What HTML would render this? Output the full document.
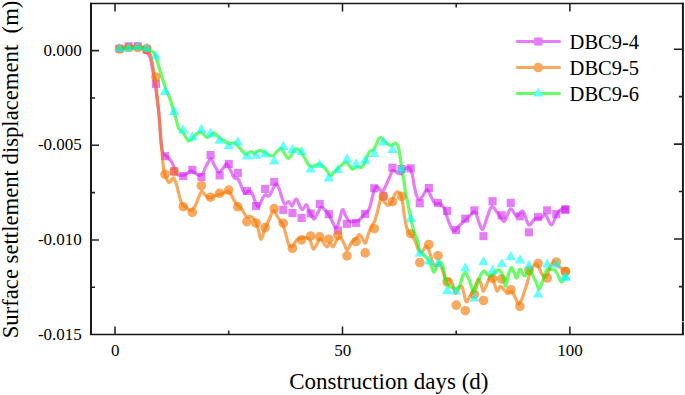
<!DOCTYPE html><html><head><meta charset="utf-8"><style>html,body{margin:0;padding:0;background:#fff;width:685px;height:395px;overflow:hidden}svg{display:block}text{font-family:"Liberation Serif",serif;fill:#000}</style></head><body>
<svg width="685" height="395" viewBox="0 0 685 395">
<path d="M119.5 48.5C120.2 48.3 122.5 47.8 124.0 47.5C125.5 47.2 127.1 46.6 128.6 46.5C130.1 46.4 131.7 46.8 133.2 46.8C134.7 46.8 136.2 46.4 137.7 46.5C139.2 46.6 141.2 46.7 142.3 47.5C143.4 48.3 143.2 50.5 144.0 51.5C144.8 52.5 146.1 52.5 147.0 53.2C147.9 53.9 148.8 54.4 149.4 55.5C150.0 56.6 150.4 58.2 150.8 60.0C151.2 61.8 151.6 64.0 152.0 66.0C152.4 68.0 152.6 69.7 153.0 72.0C153.4 74.3 154.1 77.3 154.5 80.0C154.9 82.7 155.3 85.3 155.7 88.0C156.1 90.7 156.3 93.3 156.7 96.0C157.1 98.7 157.5 101.1 157.9 104.3C158.3 107.5 158.7 111.5 159.0 115.0C159.3 118.5 159.5 120.8 159.8 125.0C160.1 129.2 160.5 135.9 160.9 140.2C161.3 144.4 161.6 148.1 162.1 150.5C162.6 152.9 162.9 153.8 163.8 154.8C164.7 155.9 166.2 155.7 167.4 156.8C168.6 157.9 170.2 159.9 171.2 161.4C172.2 162.9 172.8 164.3 173.5 165.9C174.2 167.5 174.6 169.5 175.2 171.0C175.8 172.5 176.4 174.0 177.3 174.7C178.2 175.4 179.4 175.1 180.4 175.2C181.4 175.3 182.2 175.6 183.4 175.3C184.6 175.0 186.2 174.0 187.4 173.3C188.6 172.6 189.4 171.2 190.5 171.0C191.6 170.8 192.4 171.5 193.8 172.2C195.2 172.9 197.4 175.2 198.9 175.4C200.4 175.6 201.4 175.2 202.7 173.5C204.0 171.8 205.1 167.7 206.5 165.3C207.9 162.9 209.5 158.8 210.9 158.9C212.3 159.0 213.3 163.7 214.7 165.9C216.1 168.1 217.6 171.9 219.1 172.2C220.6 172.5 222.2 169.2 223.5 167.8C224.8 166.4 225.5 163.6 226.7 164.0C227.9 164.4 229.2 168.0 230.5 170.3C231.8 172.6 233.1 176.5 234.3 177.9C235.5 179.3 236.4 177.4 237.5 178.5C238.6 179.6 239.8 182.4 240.6 184.2C241.4 186.0 241.8 188.0 242.5 189.5C243.2 191.0 244.0 193.2 245.1 193.4C246.2 193.6 247.8 191.0 248.9 190.9C250.1 190.8 250.9 191.0 252.0 192.8C253.1 194.6 254.1 199.3 255.2 201.6C256.3 203.9 257.2 207.1 258.4 206.7C259.6 206.3 261.0 201.1 262.2 199.1C263.4 197.1 264.1 195.2 265.3 194.7C266.5 194.2 267.8 196.9 269.1 196.0C270.4 195.1 271.7 191.0 272.9 189.0C274.1 187.0 275.1 183.9 276.1 183.9C277.2 183.9 278.1 186.5 279.2 189.0C280.2 191.5 281.4 196.6 282.4 199.1C283.3 201.6 283.8 203.8 284.9 204.2C285.9 204.6 287.5 201.3 288.7 201.6C289.9 201.9 290.8 206.3 291.9 206.1C292.9 205.9 294.2 201.4 295.0 200.3C295.8 199.2 296.0 198.6 296.9 199.6C297.8 200.6 299.2 204.9 300.1 206.6C301.1 208.3 301.6 210.0 302.6 209.7C303.7 209.4 305.1 204.2 306.4 204.7C307.7 205.2 308.9 210.5 310.2 212.9C311.5 215.3 312.7 219.2 314.0 219.2C315.3 219.2 316.6 214.9 317.8 212.9C319.0 210.9 319.7 207.6 321.0 207.2C322.3 206.8 324.0 209.0 325.4 210.4C326.8 211.8 327.9 213.3 329.2 215.4C330.5 217.5 331.9 220.9 333.0 223.0C334.1 225.1 335.1 228.5 336.1 228.1C337.2 227.7 338.2 223.6 339.3 220.5C340.4 217.4 341.5 210.6 342.5 209.7C343.5 208.8 344.3 213.2 345.3 215.0C346.3 216.8 347.2 219.4 348.6 220.5C350.0 221.6 352.0 221.8 353.8 221.7C355.6 221.6 357.4 221.3 359.2 220.0C361.0 218.7 362.9 215.7 364.5 214.0C366.1 212.3 367.7 211.8 368.9 209.6C370.1 207.4 370.6 203.9 371.5 200.7C372.4 197.4 373.3 192.5 374.2 190.1C375.1 187.7 375.9 186.5 376.9 186.5C377.9 186.5 379.4 189.3 380.4 190.1C381.4 190.8 382.1 192.0 383.1 191.0C384.1 190.0 385.4 186.4 386.6 183.9C387.8 181.4 389.1 178.1 390.1 175.9C391.1 173.7 391.6 171.1 392.8 170.6C394.1 170.1 396.2 172.4 397.6 172.9C399.0 173.4 400.1 174.3 401.4 173.7C402.7 173.1 403.9 170.1 405.2 169.1C406.5 168.1 407.8 166.8 409.0 167.6C410.2 168.4 411.4 171.2 412.2 174.0C413.0 176.8 413.3 180.8 414.0 184.3C414.7 187.8 415.4 192.4 416.3 194.9C417.2 197.4 418.4 199.5 419.6 199.5C420.8 199.5 422.1 196.6 423.4 194.9C424.7 193.2 426.0 189.6 427.2 189.6C428.4 189.6 429.1 192.8 430.3 194.9C431.5 197.1 433.0 201.0 434.1 202.5C435.2 204.0 436.1 203.8 437.0 204.0C437.9 204.2 438.4 202.8 439.6 203.5C440.8 204.2 442.7 205.4 444.1 208.1C445.5 210.8 446.6 216.1 447.9 219.5C449.2 222.9 450.6 226.7 451.7 228.6C452.8 230.5 453.4 231.4 454.7 230.9C456.0 230.4 457.5 227.3 459.3 225.5C461.1 223.7 463.5 222.0 465.4 220.2C467.3 218.4 469.1 216.3 470.7 214.9C472.3 213.5 473.8 210.6 475.2 211.9C476.6 213.2 477.7 219.6 479.0 222.5C480.3 225.4 481.4 230.3 482.8 229.3C484.2 228.3 485.9 220.2 487.4 216.4C488.9 212.6 490.2 207.2 491.9 206.6C493.5 206.0 495.9 211.0 497.3 212.6C498.7 214.2 498.8 215.0 500.0 216.4C501.2 217.8 502.8 222.3 504.6 221.0C506.4 219.7 508.6 209.6 510.6 208.8C512.6 208.0 514.7 216.0 516.7 216.4C518.7 216.8 520.8 209.7 522.8 211.1C524.8 212.5 526.8 223.5 528.8 224.8C530.8 226.1 532.9 219.8 534.9 218.7C536.9 217.6 539.2 218.6 541.0 218.0C542.8 217.4 543.7 213.8 545.5 214.9C547.3 216.0 549.6 225.2 551.6 224.8C553.6 224.4 555.7 215.4 557.7 212.6C559.7 209.8 562.3 208.7 563.8 208.1C565.3 207.5 566.3 208.7 566.8 208.8" fill="none" stroke="#D425F3" stroke-opacity="0.6" stroke-width="3.2" stroke-linejoin="round" stroke-linecap="round"/>
<g fill="#D425F3" fill-opacity="0.6"><rect x="115.5" y="44.6" width="8.1" height="8.1"/><rect x="124.6" y="42.2" width="8.1" height="8.1"/><rect x="133.7" y="42.2" width="8.1" height="8.1"/><rect x="142.8" y="45.7" width="8.1" height="8.1"/><rect x="151.9" y="79.8" width="8.1" height="8.1"/><rect x="161.0" y="152.1" width="8.1" height="8.1"/><rect x="170.1" y="167.2" width="8.1" height="8.1"/><rect x="179.2" y="172.0" width="8.1" height="8.1"/><rect x="188.3" y="165.8" width="8.1" height="8.1"/><rect x="197.4" y="173.0" width="8.1" height="8.1"/><rect x="206.5" y="151.0" width="8.1" height="8.1"/><rect x="215.6" y="171.3" width="8.1" height="8.1"/><rect x="224.7" y="159.9" width="8.1" height="8.1"/><rect x="233.8" y="168.9" width="8.1" height="8.1"/><rect x="242.9" y="186.9" width="8.1" height="8.1"/><rect x="252.0" y="202.0" width="8.1" height="8.1"/><rect x="261.1" y="184.9" width="8.1" height="8.1"/><rect x="270.2" y="177.9" width="8.1" height="8.1"/><rect x="279.3" y="205.8" width="8.1" height="8.1"/><rect x="288.4" y="208.9" width="8.1" height="8.1"/><rect x="297.5" y="213.9" width="8.1" height="8.1"/><rect x="306.6" y="209.4" width="8.1" height="8.1"/><rect x="315.7" y="199.9" width="8.1" height="8.1"/><rect x="324.8" y="210.1" width="8.1" height="8.1"/><rect x="333.9" y="226.4" width="8.1" height="8.1"/><rect x="342.9" y="219.8" width="8.1" height="8.1"/><rect x="352.0" y="218.8" width="8.1" height="8.1"/><rect x="361.1" y="209.9" width="8.1" height="8.1"/><rect x="370.2" y="184.2" width="8.1" height="8.1"/><rect x="379.3" y="192.2" width="8.1" height="8.1"/><rect x="388.4" y="163.6" width="8.1" height="8.1"/><rect x="397.5" y="165.0" width="8.1" height="8.1"/><rect x="406.6" y="164.3" width="8.1" height="8.1"/><rect x="415.7" y="199.2" width="8.1" height="8.1"/><rect x="424.8" y="184.0" width="8.1" height="8.1"/><rect x="433.9" y="198.9" width="8.1" height="8.1"/><rect x="443.0" y="207.0" width="8.1" height="8.1"/><rect x="452.1" y="226.0" width="8.1" height="8.1"/><rect x="461.2" y="214.6" width="8.1" height="8.1"/><rect x="470.3" y="206.3" width="8.1" height="8.1"/><rect x="479.4" y="232.1" width="8.1" height="8.1"/><rect x="488.5" y="197.2" width="8.1" height="8.1"/><rect x="497.6" y="211.2" width="8.1" height="8.1"/><rect x="506.7" y="198.8" width="8.1" height="8.1"/><rect x="515.8" y="212.3" width="8.1" height="8.1"/><rect x="524.9" y="228.3" width="8.1" height="8.1"/><rect x="534.0" y="213.1" width="8.1" height="8.1"/><rect x="543.1" y="206.3" width="8.1" height="8.1"/><rect x="552.2" y="210.1" width="8.1" height="8.1"/><rect x="561.3" y="205.5" width="8.1" height="8.1"/><rect x="561.3" y="205.5" width="8.1" height="8.1"/></g>
<path d="M119.5 49.0C120.2 48.9 122.5 48.8 124.0 48.5C125.5 48.2 127.1 47.6 128.6 47.5C130.1 47.4 131.7 47.8 133.2 47.8C134.7 47.8 136.2 47.4 137.7 47.5C139.2 47.6 141.2 47.9 142.3 48.5C143.4 49.1 143.3 50.3 144.1 51.0C144.9 51.7 146.0 52.0 147.0 52.5C148.0 53.0 149.5 53.1 150.2 54.0C150.9 54.9 151.0 56.6 151.3 58.0C151.6 59.4 151.8 60.6 152.2 62.5C152.5 64.4 152.9 66.4 153.4 69.3C153.9 72.2 154.6 76.5 155.2 80.0C155.8 83.5 156.2 86.5 156.7 90.6C157.1 94.6 157.5 100.2 157.9 104.3C158.3 108.4 158.7 111.5 159.0 115.0C159.3 118.5 159.5 120.8 159.8 125.0C160.1 129.2 160.5 135.6 160.9 140.2C161.3 144.8 161.8 148.5 162.1 152.3C162.4 156.1 162.5 159.4 162.9 162.9C163.3 166.4 163.8 170.8 164.4 173.5C165.0 176.2 166.0 177.3 166.7 178.8C167.4 180.3 168.0 182.0 168.7 182.4C169.4 182.8 170.0 181.8 170.8 181.0C171.6 180.2 172.6 177.3 173.5 177.8C174.4 178.3 175.4 181.2 176.3 183.9C177.2 186.6 178.1 190.9 178.9 194.1C179.8 197.3 180.4 200.8 181.4 202.9C182.4 205.0 183.6 205.4 185.2 206.7C186.8 208.0 189.2 210.7 190.9 210.5C192.6 210.3 194.0 207.5 195.3 205.4C196.6 203.3 197.4 200.1 198.5 197.8C199.6 195.5 200.5 192.0 201.6 191.5C202.7 191.0 203.7 193.6 204.8 194.7C205.9 195.8 206.9 197.3 208.0 197.8C209.1 198.3 209.8 198.2 211.1 197.8C212.4 197.4 214.0 195.9 215.6 195.3C217.2 194.7 218.9 194.6 220.6 194.1C222.3 193.6 224.2 192.5 225.7 192.2C227.2 191.9 228.3 191.1 229.6 192.2C230.9 193.3 232.1 196.8 233.4 199.0C234.7 201.2 235.8 203.4 237.2 205.1C238.6 206.8 240.2 207.0 241.7 208.9C243.2 210.8 244.8 215.2 246.3 216.5C247.8 217.8 249.3 215.8 250.8 216.5C252.3 217.2 254.1 218.7 255.4 221.0C256.7 223.3 257.5 227.0 258.4 230.1C259.3 233.2 260.0 239.3 261.0 239.3C262.0 239.3 263.1 233.4 264.5 230.1C265.9 226.8 267.6 222.8 269.1 219.5C270.6 216.2 272.2 210.9 273.6 210.4C275.0 209.9 276.1 214.5 277.4 216.5C278.7 218.5 280.2 221.0 281.2 222.5C282.2 224.0 282.6 223.3 283.4 225.5C284.2 227.7 285.2 232.1 286.1 235.4C287.1 238.7 288.0 243.5 289.1 245.3C290.2 247.1 291.6 246.9 292.9 246.0C294.2 245.1 295.3 241.2 296.7 239.9C298.1 238.6 299.6 238.8 301.3 238.4C303.0 238.0 305.1 237.3 306.6 237.7C308.1 238.1 309.3 238.8 310.4 240.7C311.5 242.6 312.3 248.6 313.4 249.1C314.5 249.6 316.0 245.5 317.2 243.7C318.4 241.9 319.1 238.4 320.3 238.4C321.5 238.4 323.0 242.3 324.1 243.7C325.2 245.1 326.1 246.9 327.1 246.8C328.1 246.7 329.1 243.0 330.1 243.0C331.1 243.0 332.2 247.1 333.2 246.8C334.2 246.6 334.9 243.2 336.0 241.5C337.1 239.8 338.4 236.8 339.6 236.9C340.8 237.0 342.1 240.0 343.4 242.2C344.7 244.3 345.8 249.8 347.2 249.8C348.6 249.8 350.3 244.0 351.7 242.2C353.1 240.4 354.2 240.5 355.5 239.2C356.8 237.9 358.0 234.5 359.3 234.6C360.6 234.7 362.1 238.5 363.1 239.9C364.1 241.3 364.5 244.0 365.4 243.0C366.3 242.0 367.4 236.7 368.4 233.9C369.4 231.1 370.5 228.3 371.5 226.3C372.5 224.3 373.6 223.7 374.5 221.7C375.4 219.7 376.0 216.9 376.8 214.1C377.6 211.3 378.4 207.7 379.1 205.0C379.9 202.3 380.4 198.5 381.3 198.1C382.2 197.7 383.7 201.3 384.8 202.5C385.9 203.7 386.8 205.6 388.0 205.5C389.2 205.4 390.7 203.6 391.8 201.7C392.9 199.8 393.9 195.8 394.9 194.1C395.9 192.4 396.9 191.6 397.9 191.8C398.9 192.1 400.2 193.6 401.0 195.6C401.8 197.6 402.3 201.0 402.8 203.8C403.3 206.6 403.5 209.5 403.9 212.4C404.3 215.3 404.8 218.7 405.4 221.5C405.9 224.3 406.4 227.1 407.2 229.1C408.0 231.1 409.2 232.5 410.1 233.7C411.0 234.9 411.7 235.1 412.6 236.5C413.5 237.9 414.8 240.2 415.7 242.3C416.6 244.5 417.4 247.7 418.3 249.4C419.2 251.1 420.1 252.4 421.0 252.5C421.9 252.6 422.6 251.1 423.5 250.0C424.4 248.9 425.5 245.4 426.6 246.2C427.8 246.9 429.3 251.7 430.4 254.5C431.4 257.4 431.9 261.4 432.9 263.3C433.9 265.2 435.4 265.9 436.5 266.0C437.6 266.1 438.5 263.3 439.5 264.0C440.5 264.7 441.6 267.7 442.5 270.0C443.4 272.3 444.2 276.3 445.0 278.0C445.8 279.7 446.7 279.8 447.5 280.0C448.3 280.2 448.7 278.4 449.6 279.1C450.5 279.8 451.8 281.8 452.7 284.2C453.6 286.6 454.3 292.4 455.2 293.3C456.1 294.2 457.1 290.5 458.2 289.3C459.3 288.1 460.7 285.4 461.6 286.0C462.5 286.6 463.0 290.2 463.8 292.8C464.6 295.4 465.2 301.1 466.2 301.8C467.1 302.5 468.5 298.6 469.5 297.0C470.5 295.4 471.2 294.1 472.2 292.3C473.1 290.5 474.2 288.4 475.2 286.2C476.2 284.0 477.3 279.6 478.2 279.1C479.1 278.6 479.9 281.2 480.8 283.2C481.7 285.2 482.4 290.9 483.3 291.2C484.2 291.5 485.3 287.4 486.3 285.2C487.3 283.0 488.4 279.5 489.4 278.1C490.4 276.8 491.5 275.9 492.4 277.1C493.3 278.3 494.1 282.8 494.9 285.2C495.7 287.6 496.4 291.1 497.3 291.3C498.2 291.5 499.1 287.0 500.0 286.5C500.9 286.0 501.6 287.0 502.8 288.1C504.0 289.2 505.7 292.8 507.2 293.4C508.7 294.0 510.2 290.7 511.7 291.7C513.2 292.7 515.0 297.5 516.1 299.6C517.2 301.7 517.6 304.3 518.5 304.3C519.4 304.3 520.8 301.4 521.7 299.5C522.6 297.6 523.0 295.9 524.0 293.0C525.0 290.1 526.4 285.6 527.4 282.3C528.4 279.0 529.0 275.7 529.9 273.2C530.8 270.7 531.4 268.7 532.5 267.2C533.6 265.7 535.3 263.9 536.5 264.2C537.7 264.5 538.8 267.5 539.7 269.2C540.6 270.9 541.0 272.9 541.8 274.3C542.6 275.7 543.4 277.1 544.3 277.3C545.2 277.5 546.0 277.4 547.0 275.5C548.0 273.6 549.2 268.5 550.4 266.2C551.6 263.9 553.0 261.6 554.4 261.6C555.8 261.6 557.0 264.8 558.5 266.2C560.0 267.6 562.4 268.9 563.7 269.8C565.0 270.7 565.9 271.2 566.3 271.5" fill="none" stroke="#F77907" stroke-opacity="0.65" stroke-width="3.2" stroke-linejoin="round" stroke-linecap="round"/>
<g fill="#F77907" fill-opacity="0.65"><circle cx="119.5" cy="48.9" r="4.8"/><circle cx="128.6" cy="47.5" r="4.8"/><circle cx="137.7" cy="47.5" r="4.8"/><circle cx="146.8" cy="48.5" r="4.8"/><circle cx="155.9" cy="77.0" r="4.8"/><circle cx="165.0" cy="174.3" r="4.8"/><circle cx="174.1" cy="171.5" r="4.8"/><circle cx="183.2" cy="206.7" r="4.8"/><circle cx="192.3" cy="212.4" r="4.8"/><circle cx="201.4" cy="185.7" r="4.8"/><circle cx="210.5" cy="197.2" r="4.8"/><circle cx="219.6" cy="193.4" r="4.8"/><circle cx="228.7" cy="190.1" r="4.8"/><circle cx="237.8" cy="206.8" r="4.8"/><circle cx="246.9" cy="221.6" r="4.8"/><circle cx="256.0" cy="223.0" r="4.8"/><circle cx="265.1" cy="227.6" r="4.8"/><circle cx="274.2" cy="208.6" r="4.8"/><circle cx="283.3" cy="223.2" r="4.8"/><circle cx="292.4" cy="248.3" r="4.8"/><circle cx="301.5" cy="239.9" r="4.8"/><circle cx="310.6" cy="236.1" r="4.8"/><circle cx="319.7" cy="236.9" r="4.8"/><circle cx="328.8" cy="239.2" r="4.8"/><circle cx="337.9" cy="235.4" r="4.8"/><circle cx="347.0" cy="255.9" r="4.8"/><circle cx="356.1" cy="241.5" r="4.8"/><circle cx="365.2" cy="252.9" r="4.8"/><circle cx="374.3" cy="228.7" r="4.8"/><circle cx="383.4" cy="196.3" r="4.8"/><circle cx="392.5" cy="201.7" r="4.8"/><circle cx="401.6" cy="196.3" r="4.8"/><circle cx="410.7" cy="233.7" r="4.8"/><circle cx="419.8" cy="262.5" r="4.8"/><circle cx="428.9" cy="244.5" r="4.8"/><circle cx="438.0" cy="255.7" r="4.8"/><circle cx="447.1" cy="282.0" r="4.8"/><circle cx="456.2" cy="305.1" r="4.8"/><circle cx="465.3" cy="310.7" r="4.8"/><circle cx="474.4" cy="294.5" r="4.8"/><circle cx="483.5" cy="300.5" r="4.8"/><circle cx="492.6" cy="278.4" r="4.8"/><circle cx="501.7" cy="279.0" r="4.8"/><circle cx="510.8" cy="289.7" r="4.8"/><circle cx="519.9" cy="306.4" r="4.8"/><circle cx="529.0" cy="270.3" r="4.8"/><circle cx="538.1" cy="263.5" r="4.8"/><circle cx="547.2" cy="278.0" r="4.8"/><circle cx="556.3" cy="262.0" r="4.8"/><circle cx="565.4" cy="271.5" r="4.8"/><circle cx="565.4" cy="271.5" r="4.8"/></g>
<path d="M119.5 48.0C120.2 48.0 122.5 48.4 124.0 48.3C125.5 48.2 127.1 47.5 128.6 47.5C130.1 47.5 131.7 48.0 133.2 48.0C134.7 48.0 136.2 47.5 137.7 47.5C139.2 47.5 140.8 47.9 142.3 48.2C143.8 48.5 145.4 49.1 146.8 49.5C148.2 49.9 149.6 50.5 150.5 50.8C151.4 51.1 151.8 51.0 152.5 51.5C153.2 52.0 153.8 52.8 154.4 53.8C155.0 54.8 155.6 56.0 156.1 57.5C156.6 59.0 157.0 60.3 157.6 62.5C158.2 64.7 159.1 67.7 159.9 70.5C160.8 73.3 161.7 76.1 162.7 79.3C163.7 82.5 164.7 86.3 165.9 89.5C167.1 92.7 168.4 94.8 169.7 98.2C170.9 101.7 172.4 107.1 173.4 110.2C174.4 113.3 174.8 114.7 175.5 117.0C176.2 119.3 176.8 122.0 177.3 124.0C177.9 126.0 178.1 127.4 178.8 128.7C179.6 130.0 180.8 130.6 181.8 131.7C182.8 132.8 183.8 134.0 184.9 135.5C186.0 137.0 187.2 140.2 188.3 140.8C189.4 141.4 190.6 140.2 191.7 139.3C192.8 138.4 194.1 136.1 195.1 135.1C196.1 134.1 196.9 133.7 197.8 133.2C198.8 132.7 199.8 131.8 200.8 132.1C201.8 132.3 202.8 133.8 203.8 134.7C204.8 135.6 205.8 137.3 206.9 137.4C208.1 137.5 209.5 136.3 210.7 135.5C211.9 134.7 212.9 132.8 214.0 132.8C215.1 132.8 215.9 134.6 217.0 135.5C218.1 136.4 219.1 137.6 220.3 138.5C221.6 139.4 223.1 140.2 224.5 141.0C225.9 141.8 227.3 143.1 228.5 143.5C229.7 143.9 230.4 143.4 231.5 143.3C232.6 143.2 233.8 142.5 234.9 142.9C236.0 143.3 236.9 144.9 237.8 146.0C238.8 147.1 239.7 148.2 240.6 149.2C241.5 150.2 242.2 151.2 243.0 152.0C243.8 152.8 244.8 154.1 245.6 154.3C246.4 154.6 247.2 153.9 248.0 153.5C248.8 153.1 249.6 151.6 250.7 151.6C251.8 151.6 253.3 153.5 254.4 153.5C255.5 153.5 256.1 152.0 257.0 151.5C257.9 151.0 259.1 150.3 260.1 150.3C261.1 150.3 261.9 151.0 263.0 151.5C264.1 152.0 265.0 152.3 266.5 153.1C268.0 153.8 270.5 156.2 272.2 156.0C273.9 155.8 275.0 153.3 276.5 152.0C278.0 150.7 279.7 148.2 281.0 148.4C282.3 148.7 283.3 151.8 284.5 153.5C285.7 155.2 286.8 158.4 288.0 158.5C289.2 158.6 290.7 155.6 292.0 154.0C293.3 152.4 294.3 149.6 295.6 149.1C296.9 148.6 298.6 149.6 300.0 150.8C301.4 152.0 302.3 154.1 303.8 156.5C305.3 158.9 307.4 163.6 308.9 165.3C310.4 167.0 311.5 166.7 312.7 166.6C313.9 166.5 314.9 165.4 316.0 165.0C317.1 164.6 317.6 163.7 319.0 164.1C320.4 164.5 322.8 166.0 324.1 167.2C325.4 168.3 325.9 169.6 327.0 171.0C328.1 172.4 329.5 175.6 330.6 175.8C331.7 176.1 332.5 173.5 333.5 172.5C334.5 171.5 335.3 171.0 336.7 169.7C338.1 168.4 340.1 165.9 341.8 164.7C343.5 163.4 345.1 161.5 346.8 162.2C348.5 162.9 350.3 168.3 351.9 169.1C353.5 169.9 355.2 167.5 356.3 167.2C357.4 166.8 357.6 167.0 358.5 167.0C359.4 167.0 360.4 168.1 361.4 167.4C362.4 166.7 363.7 164.8 364.6 163.0C365.6 161.2 366.3 158.5 367.1 156.6C367.9 154.7 368.6 152.8 369.6 151.6C370.7 150.4 372.3 150.8 373.4 149.7C374.4 148.6 375.0 147.1 375.9 145.3C376.8 143.5 377.6 140.2 378.5 138.9C379.4 137.6 379.9 137.3 381.0 137.7C382.1 138.1 383.2 140.2 384.8 141.5C386.4 142.8 389.0 144.9 390.5 145.3C392.0 145.7 392.8 144.3 393.7 144.0C394.6 143.7 395.4 142.7 396.2 143.4C397.0 144.1 398.1 146.2 398.7 148.4C399.3 150.6 399.6 153.8 400.0 156.6C400.4 159.4 400.9 162.8 401.3 165.5C401.7 168.2 402.1 170.5 402.5 173.1C402.9 175.7 403.6 178.1 404.0 181.0C404.4 183.9 404.5 186.3 405.2 190.4C405.9 194.5 407.4 201.4 408.2 205.6C409.0 209.8 409.5 212.2 410.2 215.4C410.9 218.6 411.6 222.0 412.3 225.0C413.0 228.0 413.9 231.3 414.6 233.5C415.3 235.7 416.0 236.3 416.6 238.0C417.2 239.7 417.6 241.4 418.1 243.5C418.6 245.6 418.7 248.7 419.6 250.5C420.5 252.3 422.2 253.0 423.6 254.6C425.0 256.1 426.8 257.9 428.1 259.8C429.4 261.7 430.4 264.1 431.4 266.2C432.4 268.3 433.0 272.2 433.9 272.3C434.8 272.4 435.8 268.5 436.7 266.7C437.6 264.9 438.4 261.9 439.3 261.7C440.2 261.4 441.6 263.3 442.4 265.2C443.2 267.1 443.7 270.2 444.3 273.0C444.9 275.8 445.3 279.8 446.1 282.0C446.9 284.2 448.0 285.2 449.1 286.2C450.2 287.1 451.5 287.2 452.7 287.7C453.9 288.2 455.0 289.7 456.2 289.3C457.4 288.9 458.6 287.3 459.7 285.2C460.8 283.1 461.7 278.6 462.6 276.5C463.6 274.4 464.4 272.3 465.4 272.6C466.4 272.9 467.5 275.8 468.5 278.1C469.5 280.5 470.6 284.3 471.5 286.7C472.4 289.1 473.1 292.6 474.0 292.3C474.9 292.0 476.1 287.4 477.1 284.7C478.1 282.0 479.1 278.4 480.2 276.1C481.3 273.8 482.7 271.4 483.8 271.0C484.9 270.6 485.8 273.1 486.8 274.0C487.8 274.9 488.8 276.1 489.9 276.1C491.0 276.1 492.0 275.1 493.4 274.0C494.8 272.9 496.7 270.0 498.0 269.7C499.3 269.4 500.2 270.8 501.1 272.2C502.0 273.6 502.9 276.0 503.6 278.3C504.4 280.6 504.8 286.5 505.6 286.0C506.4 285.5 507.3 278.4 508.2 275.3C509.1 272.2 510.2 268.1 511.2 267.7C512.2 267.3 513.3 271.0 514.2 272.7C515.1 274.4 515.9 278.4 516.8 277.8C517.7 277.2 518.8 269.9 519.8 269.2C520.8 268.5 521.7 272.4 522.6 273.5C523.5 274.6 524.2 276.7 525.2 276.0C526.2 275.3 527.8 270.1 528.8 269.5C529.8 268.9 530.6 271.2 531.5 272.7C532.4 274.2 533.2 276.7 534.0 278.3C534.8 279.9 535.4 280.6 536.2 282.4C537.0 284.2 538.0 288.8 538.9 289.0C539.8 289.2 540.9 285.7 541.8 283.4C542.7 281.1 543.4 277.7 544.3 275.3C545.2 272.9 546.1 270.1 547.3 269.2C548.5 268.3 550.1 269.5 551.4 269.7C552.7 269.9 553.8 269.4 554.9 270.3C556.0 271.2 556.9 273.4 558.0 275.3C559.1 277.2 560.1 281.7 561.3 282.0C562.5 282.3 564.7 277.8 565.4 276.9" fill="none" stroke="#00FF00" stroke-opacity="0.6" stroke-width="3.2" stroke-linejoin="round" stroke-linecap="round"/>
<g fill="#00FFFF" fill-opacity="0.6"><path d="M119.5 42.7L124.7 51.9H114.3Z"/><path d="M128.6 42.2L133.8 51.4H123.4Z"/><path d="M137.7 40.9L142.9 50.1H132.5Z"/><path d="M146.8 42.5L152.0 51.7H141.6Z"/><path d="M155.9 50.4L161.1 59.6H150.7Z"/><path d="M165.0 85.7L170.2 94.9H159.8Z"/><path d="M174.1 105.7L179.3 114.9H168.9Z"/><path d="M183.2 124.4L188.4 133.6H178.0Z"/><path d="M192.3 131.2L197.5 140.4H187.1Z"/><path d="M201.4 123.7L206.6 132.9H196.2Z"/><path d="M210.5 127.7L215.7 136.9H205.3Z"/><path d="M219.6 134.6L224.8 143.8H214.4Z"/><path d="M228.7 140.0L233.9 149.2H223.5Z"/><path d="M237.8 136.2L243.0 145.4H232.6Z"/><path d="M246.9 150.2L252.1 159.4H241.7Z"/><path d="M256.0 149.6L261.2 158.8H250.8Z"/><path d="M265.1 148.3L270.3 157.5H259.9Z"/><path d="M274.2 155.3L279.4 164.5H269.0Z"/><path d="M283.3 140.7L288.5 149.9H278.1Z"/><path d="M292.4 143.9L297.6 153.1H287.2Z"/><path d="M301.5 145.9L306.7 155.1H296.3Z"/><path d="M310.6 163.3L315.8 172.5H305.4Z"/><path d="M319.7 158.9L324.9 168.1H314.5Z"/><path d="M328.8 172.2L334.0 181.4H323.6Z"/><path d="M337.9 163.9L343.1 173.1H332.7Z"/><path d="M347.0 153.2L352.2 162.4H341.8Z"/><path d="M356.1 158.3L361.3 167.5H350.9Z"/><path d="M365.2 154.6L370.4 163.8H360.0Z"/><path d="M374.3 147.7L379.5 156.9H369.1Z"/><path d="M383.4 136.3L388.6 145.5H378.2Z"/><path d="M392.5 143.9L397.7 153.1H387.3Z"/><path d="M401.6 163.5L406.8 172.7H396.4Z"/><path d="M410.7 212.9L415.9 222.1H405.5Z"/><path d="M419.8 247.6L425.0 256.8H414.6Z"/><path d="M428.9 255.2L434.1 264.4H423.7Z"/><path d="M438.0 257.7L443.2 266.9H432.8Z"/><path d="M447.1 285.1L452.3 294.3H441.9Z"/><path d="M456.2 285.4L461.4 294.6H451.0Z"/><path d="M465.3 262.3L470.5 271.5H460.1Z"/><path d="M474.4 292.3L479.6 301.5H469.2Z"/><path d="M483.5 256.1L488.7 265.3H478.3Z"/><path d="M492.6 265.0L497.8 274.2H487.4Z"/><path d="M501.7 257.9L506.9 267.1H496.5Z"/><path d="M510.8 250.9L516.0 260.1H505.6Z"/><path d="M519.9 254.3L525.1 263.5H514.7Z"/><path d="M529.0 259.5L534.2 268.7H523.8Z"/><path d="M538.1 288.3L543.3 297.5H532.9Z"/><path d="M547.2 258.2L552.4 267.4H542.0Z"/><path d="M556.3 258.5L561.5 267.7H551.1Z"/><path d="M565.4 271.4L570.6 280.6H560.2Z"/><path d="M565.4 271.4L570.6 280.6H560.2Z"/></g>
<g stroke="#161616" fill="none">
<path d="M91 2.7V335M682.9 2.7V335" stroke-width="1.95"/>
<path d="M90 3.4H683.9M90 334.5H683.9" stroke-width="1.45"/>
<path stroke="#222" stroke-width="1.55" d="M115.0 334.5V326.5M115.0 3.4V11.4M228.7 334.5V330.5M228.7 3.4V7.4M342.5 334.5V326.5M342.5 3.4V11.4M456.2 334.5V330.5M456.2 3.4V7.4M569.9 334.5V326.5M569.9 3.4V11.4M91 50.6H99M682.9 49.2H673.9M91 97.9H95M682.9 96.6H678.9M91 145.3H99M682.9 144.1H673.9M91 192.6H95M682.9 191.5H678.9M91 239.9H99M682.9 239.0H673.9M91 287.2H95M682.9 286.6H678.9"/>
</g>
<rect x="681.6" y="321.3" width="3" height="0.9" fill="#fff" fill-opacity="0.85"/>
<text x="81.8" y="55.6" font-size="17" text-anchor="end">0.000</text>
<text x="81.8" y="150.3" font-size="17" text-anchor="end">-0.005</text>
<text x="81.8" y="244.9" font-size="17" text-anchor="end">-0.010</text>
<text x="81.8" y="339.5" font-size="17" text-anchor="end">-0.015</text>
<text x="115.2" y="355.5" font-size="17" text-anchor="middle">0</text>
<text x="342.7" y="355.5" font-size="17" text-anchor="middle">50</text>
<text x="570.1" y="355.5" font-size="17" text-anchor="middle">100</text>
<text x="388.8" y="388.6" font-size="23" text-anchor="middle">Construction days (d)</text>
<text transform="translate(18,169.5) rotate(-90)" font-size="22.7" text-anchor="middle" xml:space="preserve">Surface settlement displacement  (m)</text>
<path d="M517.2 41.5H559.4" stroke="#D425F3" stroke-opacity="0.6" stroke-width="3.2" stroke-linecap="round"/>
<rect x="534.2" y="37.5" width="8.1" height="8.1" fill="#E57CF8" fill-opacity="1"/>
<text x="569.6" y="48.6" font-size="20.5">DBC9-4</text>
<path d="M517.2 67.5H559.4" stroke="#F77907" stroke-opacity="0.65" stroke-width="3.2" stroke-linecap="round"/>
<circle cx="538.2" cy="67.5" r="4.8" fill="#FAA85E" fill-opacity="1"/>
<text x="569.6" y="74.6" font-size="20.5">DBC9-5</text>
<path d="M517.2 93.5H559.4" stroke="#00FF00" stroke-opacity="0.6" stroke-width="3.2" stroke-linecap="round"/>
<path d="M538.2 87.4L543.4 96.6H533.0Z" fill="#66FFFF" fill-opacity="1"/>
<text x="569.6" y="100.6" font-size="20.5">DBC9-6</text>
</svg></body></html>
